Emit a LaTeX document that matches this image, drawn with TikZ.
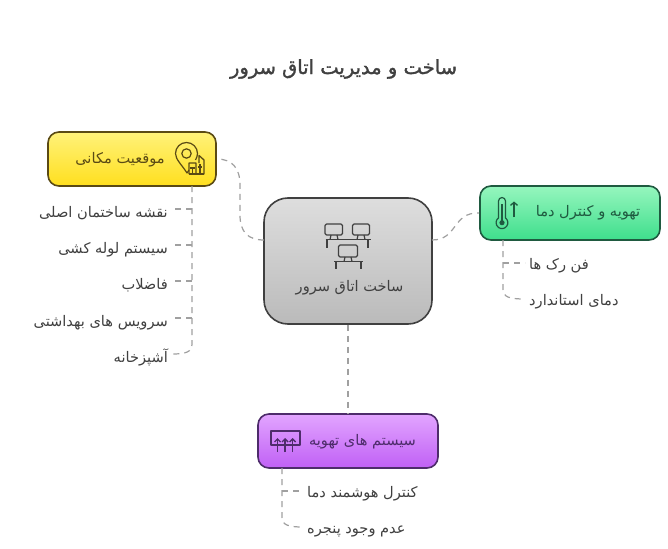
\documentclass[tikz,border=0pt]{standalone}
\usepackage{fontspec}
\usetikzlibrary{calc,arrows.meta}
\TeXXeTstate=1
\newfontfamily\fa[Script=Arabic]{DejaVu Sans}
\newfontfamily\fab[Script=Arabic,FakeBold=1.5]{DejaVu Sans}
\newcommand{\rtl}[1]{\fa\beginR #1\endR}
\definecolor{ink}{HTML}{404040}
\definecolor{lnk}{HTML}{A0A0A0}
\definecolor{yb}{HTML}{5A4A14}
\definecolor{gb}{HTML}{1F5A40}
\definecolor{pb}{HTML}{4E2C6B}
\definecolor{yt}{HTML}{FFF27A}
\definecolor{yo}{HTML}{FFDF1E}
\tikzset{
  x=1pt,y=-1pt,
  topicbox/.style={draw=#1,line width=1.6pt,rounded corners=11pt,minimum width=168pt,minimum height=54pt,inner sep=0pt,anchor=center},
  leaf/.style={font=\fontsize{14.6}{16}\selectfont,text=ink,inner sep=4pt,text height=13pt,text depth=1pt},
  leafl/.style={leaf,anchor=east,text height=16pt,text depth=0pt},
  lnkline/.style={draw=lnk,line width=1.2pt,dash pattern=on 6pt off 5pt},
  icon/.style={draw=#1,line width=1.2pt,fill=none,line join=round},
  label/.style={font=\fontsize{14.6}{16}\selectfont,inner sep=0pt}
}
\begin{document}
\begin{tikzpicture}
\useasboundingbox (0,0) rectangle (668,548);
\fill[white] (0,0) rectangle (668,548);
% title
\node[text=ink,font=\fontsize{19.5}{22}\selectfont] (title) at (343.5,69) {\fab\beginR ساخت و مدیریت اتاق سرور\endR};
% topics
\node[topicbox=ink,minimum width=168pt,minimum height=126pt,rounded corners=24pt,top color=black!13,bottom color=black!27] (center) at (348,261) {};
\node[topicbox=yb,top color=yt,bottom color=yo] (ya) at (132,159) {};
\node[topicbox=gb,minimum width=180pt,top color={rgb,255:red,150;green,246;blue,190},bottom color={rgb,255:red,62;green,222;blue,140}] (gr) at (570,213) {};
\node[topicbox=pb,minimum width=180pt,top color={rgb,255:red,226;green,165;blue,255},bottom color={rgb,255:red,192;green,96;blue,245}] (pu) at (348,441) {};
% labels
\node[label,text=ink] (tc) at (349.5,288) {\rtl{ساخت اتاق سرور}};
\node[label,text=yb] (ty) at (120,160) {\rtl{موقعیت مکانی}};
\node[label,text=gb] (tg) at (588,213) {\rtl{تهویه و کنترل دما}};
\node[label,text=pb] (tp) at (362.5,442) {\rtl{سیستم های تهویه}};
% leaves
\node[leafl] (l1) at (172,209) {\rtl{نقشه ساختمان اصلی}};
\node[leafl] (l2) at (172,245) {\rtl{سیستم لوله کشی}};
\node[leafl] (l3) at (172,281) {\rtl{فاضلاب}};
\node[leafl] (l4) at (172,318) {\rtl{سرویس های بهداشتی}};
\node[leafl] (l5) at (172,354) {\rtl{آشپزخانه}};
\node[leaf,anchor=west] (g1) at (525,263) {\rtl{فن رک ها}};
\node[leaf,anchor=west] (g2) at (525,299) {\rtl{دمای استاندارد}};
\node[leaf,anchor=west] (p1) at (303,491) {\rtl{کنترل هوشمند دما}};
\node[leaf,anchor=west] (p2) at (303,527) {\rtl{عدم وجود پنجره}};
% connectors
\coordinate (ys) at (192,186);
\coordinate (gs) at (503,240);
\coordinate (ps) at (282,468);
\coordinate (cw) at (264,240);
\coordinate (ce) at (432,240);
\draw[lnkline] (cw) .. controls (248,240) and (240,232) .. (240,215) -- (240,185) .. controls (240,168) and (232,159) .. (ya.east);
\draw[lnkline] (ce) .. controls (458,240) and (452,212) .. (gr.west);
\draw[lnkline] (center.south) -- (pu.north);
\draw[lnkline] (ys) -- ($(ys |- l5)+(0,-10)$) .. controls ($(ys |- l5)+(0,-2)$) and ($(ys |- l5)+(-6,0)$) .. (l5.east);
\foreach \n in {l1,l2,l3,l4} \draw[lnkline] (ys |- \n) -- (\n.east);
\draw[lnkline] (gs) -- ($(gs |- g2)+(0,-10)$) .. controls ($(gs |- g2)+(0,-2)$) and ($(gs |- g2)+(6,0)$) .. (g2.west);
\draw[lnkline] (gs |- g1) -- (g1.west);
\draw[lnkline] (ps) -- ($(ps |- p2)+(0,-10)$) .. controls ($(ps |- p2)+(0,-2)$) and ($(ps |- p2)+(6,0)$) .. (p2.west);
\draw[lnkline] (ps |- p1) -- (p1.west);
% server icon
\begin{scope}[icon=ink]
\draw[rounded corners=1.5pt] (325,224) rectangle (342.5,235);
\draw[rounded corners=1.5pt] (352.5,224) rectangle (369.5,235);
\draw (331,235) -- (330,239.5) (337,235) -- (338,239.5);
\draw (358,235) -- (357,239.5) (364,235) -- (365,239.5);
\draw (325.5,239.5) -- (371,239.5) (327,239.5) -- (327,248) (368,239.5) -- (368,248);
\draw[rounded corners=1.5pt] (338.5,245) rectangle (357.5,257);
\draw (345,257) -- (344,261.5) (351,257) -- (352,261.5);
\draw (334,261.5) -- (363,261.5) (336,261.5) -- (336,269) (361,261.5) -- (361,269);
\end{scope}
% pin and building icon
\begin{scope}[icon=yb]
\draw (189,170) -- (187,173) .. controls (182,165) and (175.5,159.5) .. (175.5,153.5) arc[start angle=180,end angle=360,radius=11] .. controls (197.5,156) and (196.5,158) .. (195.5,160);
\draw (186.5,153.5) circle[radius=4.7];
\draw[line width=1.3pt] (189,174) -- (189,163) -- (196,163) -- (196,174) -- (204,174) -- (204,160) -- (199,155.5) -- (199,163);
\draw[line width=1.3pt] (189,174) -- (204,174) (190,168) -- (195,168) (192.5,168) -- (192.5,174) (198,167) -- (202,167) (200,164) -- (200,174);
\end{scope}
% thermometer icon
\begin{scope}[icon=gb]
\draw (498.5,218) -- (498.5,201) arc[start angle=180,end angle=360,radius=3.5] -- (505.5,218) arc[start angle=-53,end angle=233,radius=5.9];
\draw (502,204) -- (502,222);
\fill[gb] (502,222.7) circle[radius=2.6];
\draw[-{Straight Barb[length=3pt,width=7pt]},line width=1.3pt] (514,217) -- (514,201.5);
\end{scope}
% vent icon
\begin{scope}[icon=pb]
\draw[line width=1.2pt] (271,445) rectangle (300,431);
\foreach \a in {277.5,285,292.7}
  \draw[-{Straight Barb[length=3pt,width=6pt]},line width=1.4pt] (\a,452) -- (\a,438);
\end{scope}
\end{tikzpicture}
\end{document}
